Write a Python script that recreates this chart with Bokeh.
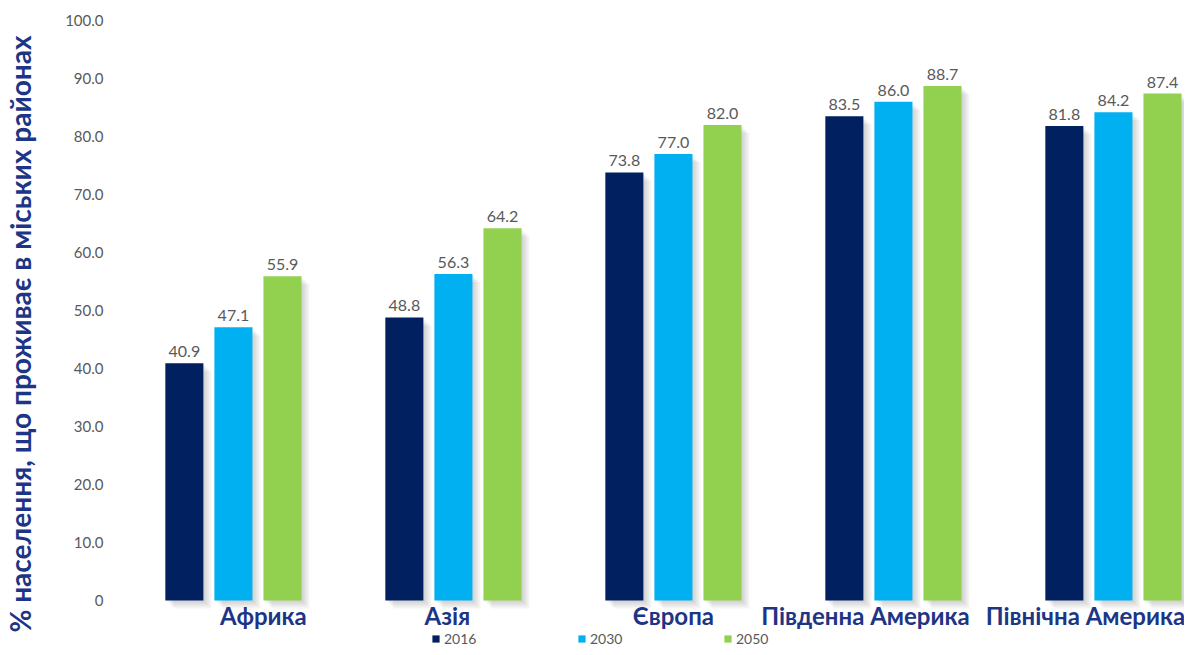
from bokeh.plotting import figure
from bokeh.models import Range1d, FixedTicker, ColumnDataSource, Legend, LegendItem, NumeralTickFormatter
from bokeh.core.properties import value
from bokeh.embed import file_html
from bokeh.resources import INLINE

regions = ["Африка", "Азія", "Європа", "Південна Америка", "Північна Америка"]
years = ["2016", "2030", "2050"]
v2016 = [40.9, 48.8, 73.8, 83.5, 81.8]
v2030 = [47.1, 56.3, 77.0, 86.0, 84.2]
v2050 = [55.9, 64.2, 82.0, 88.7, 87.4]
y_ticks = [0, 10, 20, 30, 40, 50, 60, 70, 80, 90, 100]

# layout / style constants
colors = ["#002060", "#00B0F0", "#92D050"]
offsets = [-0.223, 0.0, 0.223]
bar_w = 0.173
label_dx = [30, -6, 0, -28, -28]   # pixel nudges of the category labels
NAVY_TXT = "#1C3586"
GRAY = "#595959"
PX_X = 220.0   # pixels per x unit
PX_Y = 5.8     # pixels per y unit
FRAME_W, FRAME_H = 1069, 627
x0 = -0.536
y_top = 100.0

series = [v2016, v2030, v2050]

p = figure(frame_width=FRAME_W, frame_height=FRAME_H, output_backend="svg", toolbar_location=None,
           x_range=Range1d(x0, x0 + FRAME_W / PX_X), y_range=Range1d(y_top - FRAME_H / PX_Y, y_top),
           x_axis_location=None,
           min_border_left=107, min_border_right=0, min_border_top=20, min_border_bottom=0)
p.outline_line_color = None
p.grid.grid_line_color = None
p.background_fill_color = "white"
p.border_fill_color = "white"

idx = list(range(len(regions)))

# soft shadows
for vals, off in zip(series, offsets):
    for d in [2, 4, 6, 8]:
        dx, dy = d / PX_X, d / PX_Y
        p.vbar(x=[i + off + dx for i in idx], top=[v - dy for v in vals], bottom=-dy,
               width=bar_w, fill_color="#000000", fill_alpha=0.045, line_color=None)

items = []
for vals, col, off, yr in zip(series, colors, offsets, years):
    xs = [i + off for i in idx]
    src = ColumnDataSource(dict(x=xs, top=vals, lab=[f"{v:.1f}" for v in vals]))
    r = p.vbar(x="x", top="top", width=bar_w, source=src, fill_color=col, line_color=None)
    p.text(x="x", y="top", text="lab", source=src, text_align="center", text_baseline="bottom",
           y_offset=-6, text_font=value("Lato"), text_font_size="16px", text_color=GRAY)
    items.append(LegendItem(label=yr, renderers=[r]))

# category labels
csrc = ColumnDataSource(dict(x=idx, y=[0] * len(idx), t=regions, dx=label_dx))
p.text(x="x", y="y", text="t", source=csrc, x_offset="dx", y_offset=15,
       text_align="center", text_baseline="middle",
       text_font=value("Lato"), text_font_style="bold", text_font_size="24px", text_color=NAVY_TXT)

ya = p.yaxis[0]
ya.ticker = FixedTicker(ticks=y_ticks)
ya.formatter = NumeralTickFormatter(format="0.0")
ya.major_label_overrides = {0: "0"}
ya.axis_line_color = None
ya.major_tick_line_color = None
ya.minor_tick_line_color = None
ya.major_label_text_font = "Lato"
ya.major_label_text_font_size = "15px"
ya.major_label_text_color = GRAY
ya.major_label_standoff = 6
ya.axis_label = "% населення, що проживає в міських районах"
ya.axis_label_text_font = "Lato"
ya.axis_label_text_font_style = "bold"
ya.axis_label_text_font_size = "28px"
ya.axis_label_text_color = NAVY_TXT
ya.axis_label_standoff = 25

legend = Legend(items=items, orientation="horizontal", location=(316, 0),
                padding=0, margin=0, spacing=0, label_width=133, label_standoff=4,
                glyph_width=9, glyph_height=9, label_height=13,
                label_text_font="Lato", label_text_font_size="14px", label_text_color=GRAY,
                border_line_alpha=0, background_fill_alpha=0)
p.add_layout(legend, "center")

open("out.html", "w").write(file_html(p, INLINE))
